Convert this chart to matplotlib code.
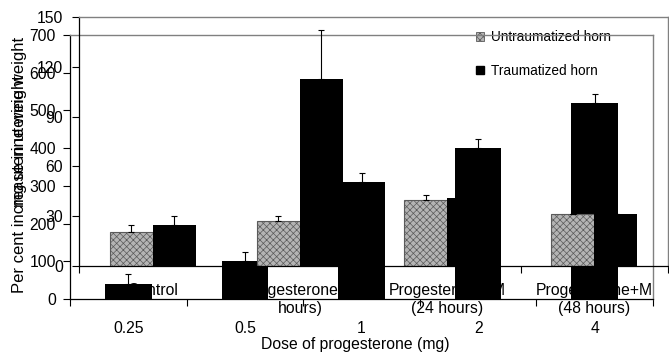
import matplotlib
matplotlib.use('Agg')
import matplotlib.pyplot as plt
import numpy as np
from matplotlib.patches import Patch
from matplotlib.ticker import FixedLocator, NullFormatter

plt.rcParams['font.family'] = ['Liberation Sans', 'DejaVu Sans']
plt.rcParams['hatch.linewidth'] = 0.5

# ---- Chart A (back): per cent increase by dose ----
doses = ['0.25', '0.5', '1', '2', '4']
pct_increase = [40, 100, 310, 400, 520]
pct_err = [26, 24, 24, 24, 24]
a_yticks = [0, 100, 200, 300, 400, 500, 600, 700]

# ---- Chart B (front): mg uterine weight by treatment ----
groups = ['Control', 'Progesterone (6\nhours)', 'Progesterone+M\n(24 hours)', 'Progesterone+M\n(48 hours)']
untraumatized = [20.5, 27.1, 39.8, 31.3]
untraum_err = [4.2, 3.0, 3.0, 0.0]
traumatized = [24.7, 112.7, 41.0, 31.3]
traum_err = [5.4, 29.5, 3.0, 0.0]
b_yticks = [0, 30, 60, 90, 120, 150]

W, H = 669, 359
fig = plt.figure(figsize=(W / 100, H / 100), dpi=100)

def rect(x0, y0, x1, y1):
    return [x0 / W, 1 - y1 / H, (x1 - x0) / W, (y1 - y0) / H]

FS = 11.3
GRAY_FC = '#b4b4b4'
GRAY_EC = '#5a5a5a'
HATCH = 'xxxxx'
FRAME = '#808080'

axA = fig.add_axes(rect(70, 35, 653, 299))
axB = fig.add_axes(rect(79, 17, 668, 266))
axA.set_zorder(1)
axB.set_zorder(2)
axB.patch.set_visible(False)

# ---- Chart A ----
xa = np.arange(len(doses))
axA.bar(xa, pct_increase, width=0.40, color='black', zorder=2,
        yerr=[np.zeros(len(pct_err)), pct_err], capsize=2,
        error_kw=dict(ecolor='black', elinewidth=0.8, capthick=0.8))
axA.set_xlim(-0.5, len(doses) - 0.5)
axA.set_ylim(0, 700)
axA.set_yticks(a_yticks)
axA.tick_params(axis='y', direction='out', length=5, pad=5, labelsize=FS, width=0.8)
axA.set_xticks(xa)
axA.set_xticklabels(doses)
axA.xaxis.set_minor_locator(FixedLocator(np.arange(-0.5, len(doses), 1.0)))
axA.tick_params(axis='x', which='major', length=0, pad=16, labelsize=FS)
axA.tick_params(axis='x', which='minor', length=5, width=0.8, direction='out')
for s in ['top', 'right']:
    axA.spines[s].set_color(FRAME)
    axA.spines[s].set_linewidth(1.0)
for s in ['left', 'bottom']:
    axA.spines[s].set_color('black')
    axA.spines[s].set_linewidth(0.9)

# ---- Chart B ----
xb = np.arange(len(groups))
wb = 0.292
axB.bar(xb - wb / 2, untraumatized, width=wb, facecolor=GRAY_FC, edgecolor=GRAY_EC,
        hatch=HATCH, linewidth=0.8, zorder=2,
        yerr=[np.zeros(len(untraum_err)), untraum_err], capsize=2,
        error_kw=dict(ecolor='black', elinewidth=0.8, capthick=0.8))
axB.bar(xb + wb / 2, traumatized, width=wb, color='black', zorder=2,
        yerr=[np.zeros(len(traum_err)), traum_err], capsize=2,
        error_kw=dict(ecolor='black', elinewidth=0.8, capthick=0.8))
axB.set_xlim(-0.5, len(groups) - 0.5)
axB.set_ylim(0, 150)
axB.set_yticks(b_yticks)
axB.tick_params(axis='y', direction='out', length=5, pad=6.5, labelsize=FS, width=0.8)
axB.set_xticks(np.arange(-0.5, len(groups), 1.0))
axB.xaxis.set_major_formatter(NullFormatter())
axB.tick_params(axis='x', direction='out', length=5, width=0.8)
for s in ['top', 'right']:
    axB.spines[s].set_color(FRAME)
    axB.spines[s].set_linewidth(1.0)
for s in ['left', 'bottom']:
    axB.spines[s].set_color('black')
    axB.spines[s].set_linewidth(0.9)

# Chart B category labels, drawn beneath chart A's bars
for i, g in enumerate(groups):
    axA.text(xb[i], -0.068, g, transform=axB.get_xaxis_transform(),
             ha='center', va='top', fontsize=FS, linespacing=1.28,
             zorder=1)

# Legend (belongs to the back chart, under its frame line)
handles = [Patch(facecolor=GRAY_FC, edgecolor=GRAY_EC, hatch=HATCH, linewidth=0.6),
           Patch(facecolor='black', edgecolor='black')]
leg = axA.legend(handles, ['Untraumatized horn', 'Traumatized horn'],
                 loc='upper left', bbox_to_anchor=(476 / W, 1 - 30 / H),
                 bbox_transform=fig.transFigure, frameon=False, fontsize=9.8,
                 handlelength=0.6, handleheight=0.6, handletextpad=0.5,
                 labelspacing=1.45, borderpad=0, borderaxespad=0)
leg.set_zorder(2)

# Axis titles
fig.text(355 / W, 1 - 345 / H, 'Dose of progesterone (mg)', ha='center', va='center',
         fontsize=FS)
fig.text(19.5 / W, 1 - 165 / H, 'Per cent increase in uterine weight', rotation=90,
         ha='center', va='center', fontsize=12)
fig.text(19.5 / W, 1 - 141 / H, 'mg uterine weight', rotation=90,
         ha='center', va='center', fontsize=12)

fig.savefig('out.png', dpi=100)
